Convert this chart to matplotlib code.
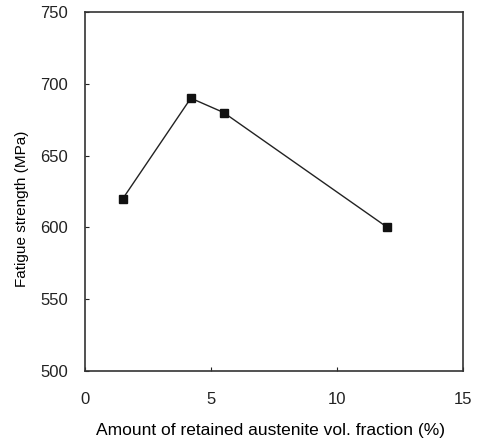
import matplotlib
matplotlib.use("Agg")
import matplotlib.pyplot as plt

x_vals = [1.5, 4.2, 5.5, 12.0]
y_vals = [620, 690, 680, 600]
x_ticks = [0, 5, 10, 15]
y_ticks = [500, 550, 600, 650, 700, 750]

plt.rcParams['font.family'] = ['Liberation Sans', 'DejaVu Sans']

fig = plt.figure(figsize=(4.78, 4.42), dpi=100)
ax = fig.add_axes([85/478, 1-371/442, (463-85)/478, (371-12)/442])
ax.plot(x_vals, y_vals, color='#222222', lw=1.0, marker='s', markersize=5.5,
        markerfacecolor='#111111', markeredgecolor='#111111')
ax.set_xlim(0, 15)
ax.set_ylim(500, 750)
ax.set_xticks(x_ticks)
ax.set_yticks(y_ticks)
ax.tick_params(direction='in', length=3, width=0.8, labelsize=12, colors='#222222')
ax.tick_params(axis='y', pad=12)
ax.tick_params(axis='x', pad=15)
for s in ax.spines.values():
    s.set_linewidth(1.2)
    s.set_color('#333333')
ax.set_ylabel('Fatigue strength (MPa)', fontsize=11)
ax.yaxis.set_label_coords(-(85-22)/378, (371-209)/359)
ax.set_xlabel('Amount of retained austenite vol. fraction (%)', fontsize=12.5)
ax.xaxis.set_label_coords((270-85)/378, -(430-371)/359)
ax.xaxis.label.set_va('center')
ax.yaxis.label.set_va('center')
fig.savefig('out.png', dpi=100)
